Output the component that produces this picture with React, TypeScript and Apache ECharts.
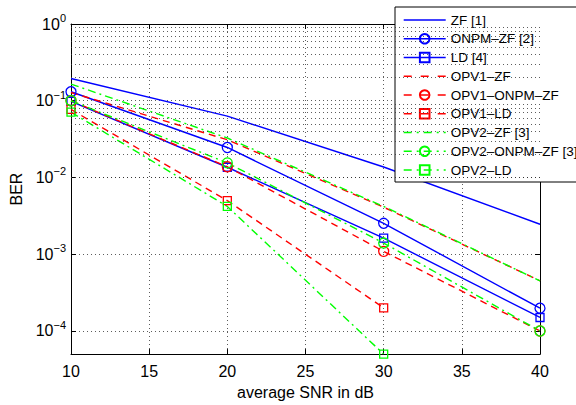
import React, { useEffect, useRef } from "react";
import * as echarts from "echarts";

const snr = [10, 20, 30, 40];
const zf = [0.195, 0.063, 0.0137, 0.00246];
const onpmZf = [0.131, 0.0246, 0.00253, 0.000198];
const ld = [0.098, 0.0136, 0.00162, 0.00015];
const opv1Zf = [0.128, 0.031, 0.0041, 0.00045];
const opv1OnpmZf = [0.1, 0.0138, 0.00109, 0.0001];
const opv1Ld = [0.077, 0.005, 0.0002];
const opv2Zf = [0.165, 0.0327, 0.0042, 0.00045];
const opv2OnpmZf = [0.1, 0.0155, 0.0014, 0.0001];
const opv2Ld = [0.071, 0.0042, 0.00005];

const seriesNames = [
  "ZF [1]",
  "ONPM–ZF [2]",
  "LD [4]",
  "OPV1–ZF",
  "OPV1–ONPM–ZF",
  "OPV1–LD",
  "OPV2–ZF [3]",
  "OPV2–ONPM–ZF [3]",
  "OPV2–LD",
];

const minorGrid: number[] = [];
for (let e = -5; e <= -1; e++) {
  for (let k = 2; k <= 9; k++) {
    const v = k * Math.pow(10, e);
    if (v > 5.01e-5 && v < 1) minorGrid.push(v);
  }
}

const BLUE = "#0000ff";
const RED = "#ff0000";
const GREEN = "#00ff00";
const DASH = [7, 5];
const DASHDOT = [8, 4, 2, 4];
const LEG_DASH = [8, 9];
const LEG_DASHDOT = [8, 5, 2, 5];

const symbols = ["none", "circle", "rect", "none", "circle", "rect", "none", "circle", "rect"];
const colors = [BLUE, BLUE, BLUE, RED, RED, RED, GREEN, GREEN, GREEN];
const dashes: any[] = ["solid", "solid", "solid", DASH, DASH, DASH, DASHDOT, DASHDOT, DASHDOT];
const legendDashes: any[] = ["solid", "solid", "solid", LEG_DASH, LEG_DASH, LEG_DASH, LEG_DASHDOT, LEG_DASHDOT, LEG_DASHDOT];
const values = [zf, onpmZf, ld, opv1Zf, opv1OnpmZf, opv1Ld, opv2Zf, opv2OnpmZf, opv2Ld];

function mk(i: number) {
  const color = colors[i];
  const symbol = symbols[i];
  return {
    name: seriesNames[i],
    type: "line",
    data: values[i].map((v, j) => [snr[j], v]),
    symbol: symbol,
    symbolSize: symbol === "rect" ? 8 : 10,
    showSymbol: symbol !== "none",
    lineStyle: { color, width: 1.4, type: dashes[i] },
    itemStyle: { color: "rgba(255,255,255,0)", borderColor: color, borderWidth: 1.3 },
    emphasis: { disabled: true },
  };
}

export default function App() {
  const ref = useRef<HTMLDivElement>(null);
  useEffect(() => {
    if (!ref.current) return;
    const chart = echarts.init(ref.current, null, { renderer: "svg" });
    const gridLine = { type: [1, 3], color: "#333", width: 0.8 };
    const axisLineStyle = { color: "#000", width: 1 };
    const option: any = {
      animation: false,
      backgroundColor: "#fff",
      textStyle: { fontFamily: "Liberation Sans" },
      grid: { left: 71, right: 36, top: 24, bottom: 47 },
      legend: {
        data: seriesNames.map((n, i) => {
          const item: any = {
            name: n,
            lineStyle: { type: legendDashes[i], color: colors[i], width: 1.4 },
          };
          if (symbols[i] === "none") item.itemStyle = { opacity: 0 };
          return item;
        }),
        orient: "vertical",
        left: 395,
        top: 7,
        padding: [6, 12, 5, 8],
        itemWidth: 42,
        itemHeight: 12,
        itemGap: 4.75,
        backgroundColor: "#fff",
        borderColor: "#000",
        borderWidth: 1,
        borderRadius: 0,
        selectedMode: false,
        textStyle: { fontSize: 13.5, color: "#000", fontFamily: "Liberation Sans" },
      },
      xAxis: [
        {
          type: "value",
          min: 10,
          max: 40,
          interval: 5,
          axisLine: { onZero: false, lineStyle: axisLineStyle },
          axisTick: { inside: true, length: 5, lineStyle: axisLineStyle },
          axisLabel: { fontSize: 16, color: "#000", margin: 9 },
          splitLine: { show: true, lineStyle: gridLine },
          name: "average SNR in dB",
          nameLocation: "middle",
          nameGap: 28,
          nameTextStyle: { fontSize: 16, color: "#000" },
        },
        {
          type: "value",
          position: "top",
          min: 10,
          max: 40,
          interval: 5,
          axisLine: { onZero: false, lineStyle: axisLineStyle },
          axisTick: { inside: true, length: 5, lineStyle: axisLineStyle },
          axisLabel: { show: false },
          splitLine: { show: false },
        },
      ],
      yAxis: [
        {
          type: "log",
          logBase: 10,
          min: 5e-5,
          max: 1,
          axisLine: { onZero: false, lineStyle: axisLineStyle },
          axisTick: { inside: true, length: 5, lineStyle: axisLineStyle },
          splitLine: { show: true, lineStyle: gridLine },
          axisLabel: {
            margin: 5,
            color: "#000",
            formatter: (v: number) => {
              const e = Math.log10(v);
              const r = Math.round(e);
              if (Math.abs(e - r) > 1e-6) return "";
              return "{b|10}{s|" + (r === 0 ? "0" : "−" + String(-r)) + "}";
            },
            rich: {
              b: { fontSize: 16, color: "#000", fontFamily: "Liberation Sans" },
              s: { fontSize: 11, color: "#000", padding: [0, 0, 12, 0], fontFamily: "Liberation Sans" },
            },
          },
          name: "BER",
          nameLocation: "middle",
          nameGap: 46,
          nameTextStyle: { fontSize: 16, color: "#000" },
        },
        {
          type: "log",
          logBase: 10,
          position: "right",
          min: 5e-5,
          max: 1,
          axisLine: { onZero: false, lineStyle: axisLineStyle },
          axisTick: { inside: true, length: 5, lineStyle: axisLineStyle },
          axisLabel: { show: false },
          splitLine: { show: false },
        },
      ],
      series: [
        {
          name: "grid-minor",
          type: "line",
          data: [],
          silent: true,
          markLine: {
            silent: true,
            symbol: ["none", "none"],
            label: { show: false },
            lineStyle: { ...gridLine },
            emphasis: { disabled: true },
            data: minorGrid.map((v) => ({ yAxis: v })),
          },
        },
        ...seriesNames.map((_, i) => mk(i)),
      ],
    };
    chart.setOption(option);
    return () => chart.dispose();
  }, []);
  return <div ref={ref} style={{ width: 576, height: 405, position: "absolute", left: 0, top: 0 }} />;
}
